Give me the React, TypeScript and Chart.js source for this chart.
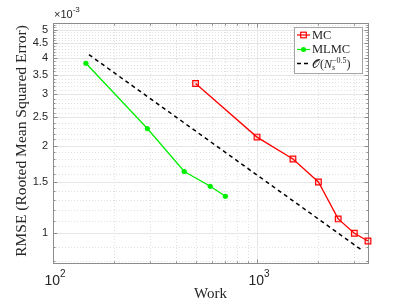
import React, { useEffect, useRef } from "react";
import { Chart, registerables } from "chart.js";

Chart.register(...registerables);

// ---- data ----
const mcWork = [500, 1000, 1500, 2000, 2500, 3000, 3500];
const mcRmse = [3.27e-3, 2.14e-3, 1.8e-3, 1.5e-3, 1.12e-3, 1.0e-3, 0.94e-3];
const mlmcWork = [145, 290, 440, 590, 700];
const mlmcRmse = [3.84e-3, 2.29e-3, 1.63e-3, 1.45e-3, 1.34e-3];
const refWork = [150, 3300];
const refRmse = [4.11e-3, 0.87e-3];

const xMajorTicks = [100, 1000];
const xTickExponents = ["2", "3"];
const xMinorTicks = [200, 300, 400, 500, 600, 700, 800, 900, 2000, 3000];
const yMajorTicks = [1e-3, 1.5e-3, 2e-3, 2.5e-3, 3e-3, 3.5e-3, 4e-3, 4.5e-3, 5e-3];
const yTickLabels = ["1", "1.5", "2", "2.5", "3", "3.5", "4", "4.5", "5"];
const yMinorTicks = [
  0.8e-3, 0.9e-3, 1.1e-3, 1.2e-3, 1.3e-3, 1.4e-3, 1.6e-3, 1.7e-3, 1.8e-3, 1.9e-3,
  2.1e-3, 2.2e-3, 2.3e-3, 2.4e-3, 2.6e-3, 2.7e-3, 2.8e-3, 2.9e-3, 3.1e-3, 3.2e-3,
  3.3e-3, 3.4e-3, 3.6e-3, 3.7e-3, 3.8e-3, 3.9e-3, 4.1e-3, 4.2e-3, 4.3e-3, 4.4e-3,
  4.6e-3, 4.7e-3, 4.8e-3, 4.9e-3, 5.1e-3, 5.2e-3,
];

const xTitle = "Work";
const yTitle = "RMSE (Rooted Mean Squared Error)";
const legendLabels = ["MC", "MLMC"];

const RED = "#ff0000";
const GREEN = "#00f000";
const AXIS = "#8c8c8c";
const TXT = "#262626";
const SANS = '"Liberation Sans", Arial, Helvetica, sans-serif';
const SERIF = '"Liberation Serif", "Times New Roman", serif';

const framePlugin = {
  id: "matlabFrame",
  beforeDatasetsDraw(chart: any) {
    const { ctx, chartArea: a, scales } = chart;
    const x = scales.x;
    const y = scales.y;
    ctx.save();
    // minor grid (dotted)
    ctx.lineWidth = 1;
    ctx.strokeStyle = "#e0e0e0";
    ctx.setLineDash([1, 2]);
    ctx.beginPath();
    for (const v of xMinorTicks) {
      const px = Math.round(x.getPixelForValue(v)) + 0.5;
      ctx.moveTo(px, a.top);
      ctx.lineTo(px, a.bottom);
    }
    for (const v of yMinorTicks) {
      const py = Math.round(y.getPixelForValue(v)) + 0.5;
      ctx.moveTo(a.left, py);
      ctx.lineTo(a.right, py);
    }
    ctx.stroke();
    // major grid (solid)
    ctx.setLineDash([]);
    ctx.strokeStyle = "#e6e6e6";
    ctx.beginPath();
    for (const v of xMajorTicks) {
      const px = Math.round(x.getPixelForValue(v)) + 0.5;
      ctx.moveTo(px, a.top);
      ctx.lineTo(px, a.bottom);
    }
    for (const v of yMajorTicks) {
      const py = Math.round(y.getPixelForValue(v)) + 0.5;
      ctx.moveTo(a.left, py);
      ctx.lineTo(a.right, py);
    }
    ctx.stroke();
    // box
    ctx.strokeStyle = AXIS;
    ctx.lineWidth = 1;
    const L = Math.round(a.left) + 0.5;
    const R = Math.round(a.right) + 0.5;
    const T = Math.round(a.top) + 0.5;
    const B = Math.round(a.bottom) + 0.5;
    ctx.strokeRect(L, T, R - L, B - T);
    // ticks (inward)
    ctx.beginPath();
    const drawX = (v: number, len: number) => {
      const px = Math.round(x.getPixelForValue(v)) + 0.5;
      ctx.moveTo(px, B);
      ctx.lineTo(px, B - len);
      ctx.moveTo(px, T);
      ctx.lineTo(px, T + len);
    };
    const drawY = (v: number, len: number) => {
      const py = Math.round(y.getPixelForValue(v)) + 0.5;
      ctx.moveTo(L, py);
      ctx.lineTo(L + len, py);
      ctx.moveTo(R, py);
      ctx.lineTo(R - len, py);
    };
    xMajorTicks.forEach((v) => drawX(v, 4));
    xMinorTicks.forEach((v) => drawX(v, 2));
    yMajorTicks.forEach((v) => drawY(v, 4));
    yMinorTicks.forEach((v) => drawY(v, 2));
    ctx.stroke();
    ctx.restore();
  },
  afterDatasetsDraw(chart: any) {
    const { ctx, chartArea: a, scales } = chart;
    const x = scales.x;
    const y = scales.y;
    ctx.save();
    ctx.fillStyle = TXT;
    // y tick labels
    ctx.font = `11px ${SANS}`;
    ctx.textAlign = "right";
    ctx.textBaseline = "middle";
    yMajorTicks.forEach((v, i) => {
      ctx.fillText(yTickLabels[i], a.left - 5, y.getPixelForValue(v));
    });
    // exponent label
    ctx.textAlign = "left";
    ctx.textBaseline = "alphabetic";
    ctx.font = `11px ${SANS}`;
    ctx.fillText("\u00d710", a.left + 1, 18);
    const ew = ctx.measureText("\u00d710").width;
    ctx.font = `8px ${SANS}`;
    ctx.fillText("-3", a.left + 1 + ew, 12);
    // x tick labels
    xMajorTicks.forEach((v, i) => {
      const px = x.getPixelForValue(v);
      ctx.font = `14px ${SANS}`;
      const w1 = ctx.measureText("10").width;
      ctx.font = `10px ${SANS}`;
      const w2 = ctx.measureText(xTickExponents[i]).width;
      const sx = px - (w1 + w2) / 2 + 2;
      ctx.font = `14px ${SANS}`;
      ctx.fillText("10", sx, 285);
      ctx.font = `10px ${SANS}`;
      ctx.fillText(xTickExponents[i], sx + w1, 277);
    });
    // axis titles
    ctx.font = `15px ${SERIF}`;
    ctx.textAlign = "center";
    ctx.fillText(xTitle, (a.left + a.right) / 2, 298);
    ctx.save();
    ctx.translate(22, 141);
    ctx.rotate(-Math.PI / 2);
    ctx.textBaseline = "middle";
    ctx.font = `15.5px ${SERIF}`;
    ctx.fillText(yTitle, 0, 0);
    ctx.restore();

    // legend
    const lx = 294.5, ly = 27.5, lw = 68, lh = 46;
    ctx.fillStyle = "#ffffff";
    ctx.fillRect(lx, ly, lw, lh);
    ctx.strokeStyle = "#a6a6a6";
    ctx.lineWidth = 1;
    ctx.strokeRect(lx, ly, lw, lh);
    const rows = [35, 49.5, 63.5];
    const s0 = 297, s1 = 310, sm = 303.5;
    // MC
    ctx.strokeStyle = RED;
    ctx.lineWidth = 1.2;
    ctx.beginPath();
    ctx.moveTo(s0, rows[0]);
    ctx.lineTo(s1, rows[0]);
    ctx.stroke();
    ctx.strokeRect(sm - 2.8, rows[0] - 2.8, 5.6, 5.6);
    // MLMC
    ctx.strokeStyle = GREEN;
    ctx.fillStyle = GREEN;
    ctx.beginPath();
    ctx.moveTo(s0, rows[1]);
    ctx.lineTo(s1, rows[1]);
    ctx.stroke();
    ctx.beginPath();
    ctx.arc(sm, rows[1], 2.5, 0, Math.PI * 2);
    ctx.fill();
    // ref
    ctx.strokeStyle = "#000000";
    ctx.lineWidth = 1.5;
    ctx.setLineDash([4, 3]);
    ctx.beginPath();
    ctx.moveTo(s0, rows[2]);
    ctx.lineTo(s1 + 1, rows[2]);
    ctx.stroke();
    ctx.setLineDash([]);
    // texts
    ctx.fillStyle = TXT;
    ctx.textAlign = "left";
    ctx.textBaseline = "middle";
    ctx.font = `12.5px ${SERIF}`;
    ctx.fillText(legendLabels[0], 312, rows[0] + 0.5);
    ctx.fillText(legendLabels[1], 312, rows[1] + 0.5);
    // O(N_s^{-0.5})
    let tx = 312;
    const ty = rows[2] + 1.5;
    ctx.textBaseline = "alphabetic";
    const part = (t: string, font: string, dy: number) => {
      ctx.font = font;
      ctx.fillText(t, tx, ty + dy);
      tx += ctx.measureText(t).width;
    };
    part("\ud835\udcaa", `12px "DejaVu Sans", ${SERIF}`, 3);
    part("(", `12px ${SERIF}`, 3);
    part("N", `italic 12px ${SERIF}`, 3);
    const nx = tx;
    part("s", `italic 8px ${SERIF}`, 5);
    tx = nx;
    part("\u22120.5", `8px ${SERIF}`, -2);
    part(")", `12px ${SERIF}`, 3);
    ctx.restore();
  },
};

export default function App() {
  const ref = useRef<HTMLCanvasElement | null>(null);
  useEffect(() => {
    if (!ref.current) return;
    const toPts = (xs: number[], ys: number[]) => xs.map((v, i) => ({ x: v, y: ys[i] }));
    const chart = new Chart(ref.current, {
      type: "scatter",
      data: {
        datasets: [
          {
            label: "MC",
            data: toPts(mcWork, mcRmse),
            showLine: true,
            borderColor: RED,
            borderWidth: 1.3,
            pointStyle: "rect",
            pointRadius: 4,
            pointBorderWidth: 1.2,
            pointBorderColor: RED,
            pointBackgroundColor: "rgba(255,0,0,0.12)",
            clip: false,
          },
          {
            label: "MLMC",
            data: toPts(mlmcWork, mlmcRmse),
            showLine: true,
            borderColor: GREEN,
            borderWidth: 1.3,
            pointStyle: "circle",
            pointRadius: 2.6,
            pointBorderWidth: 0,
            pointBackgroundColor: GREEN,
            clip: false,
          },
          {
            label: "ref",
            data: toPts(refWork, refRmse),
            showLine: true,
            borderColor: "#000000",
            borderWidth: 1.5,
            borderDash: [4, 3.5],
            pointRadius: 0,
            clip: false,
          },
        ],
      },
      options: {
        animation: false,
        responsive: false,
        maintainAspectRatio: false,
        layout: { padding: { left: 53, right: 39, top: 23, bottom: 42 } },
        plugins: { legend: { display: false }, tooltip: { enabled: false } },
        scales: {
          x: { type: "logarithmic", min: 100, max: 3500, display: false },
          y: { type: "logarithmic", min: 0.79e-3, max: 5.28e-3, display: false },
        },
      },
      plugins: [framePlugin],
    });
    return () => chart.destroy();
  }, []);
  return (
    <div style={{ position: "fixed", left: 0, top: 0, width: 407, height: 305, background: "#fff" }}>
      <canvas ref={ref} width={407} height={305} style={{ width: 407, height: 305, display: "block" }} />
    </div>
  );
}
